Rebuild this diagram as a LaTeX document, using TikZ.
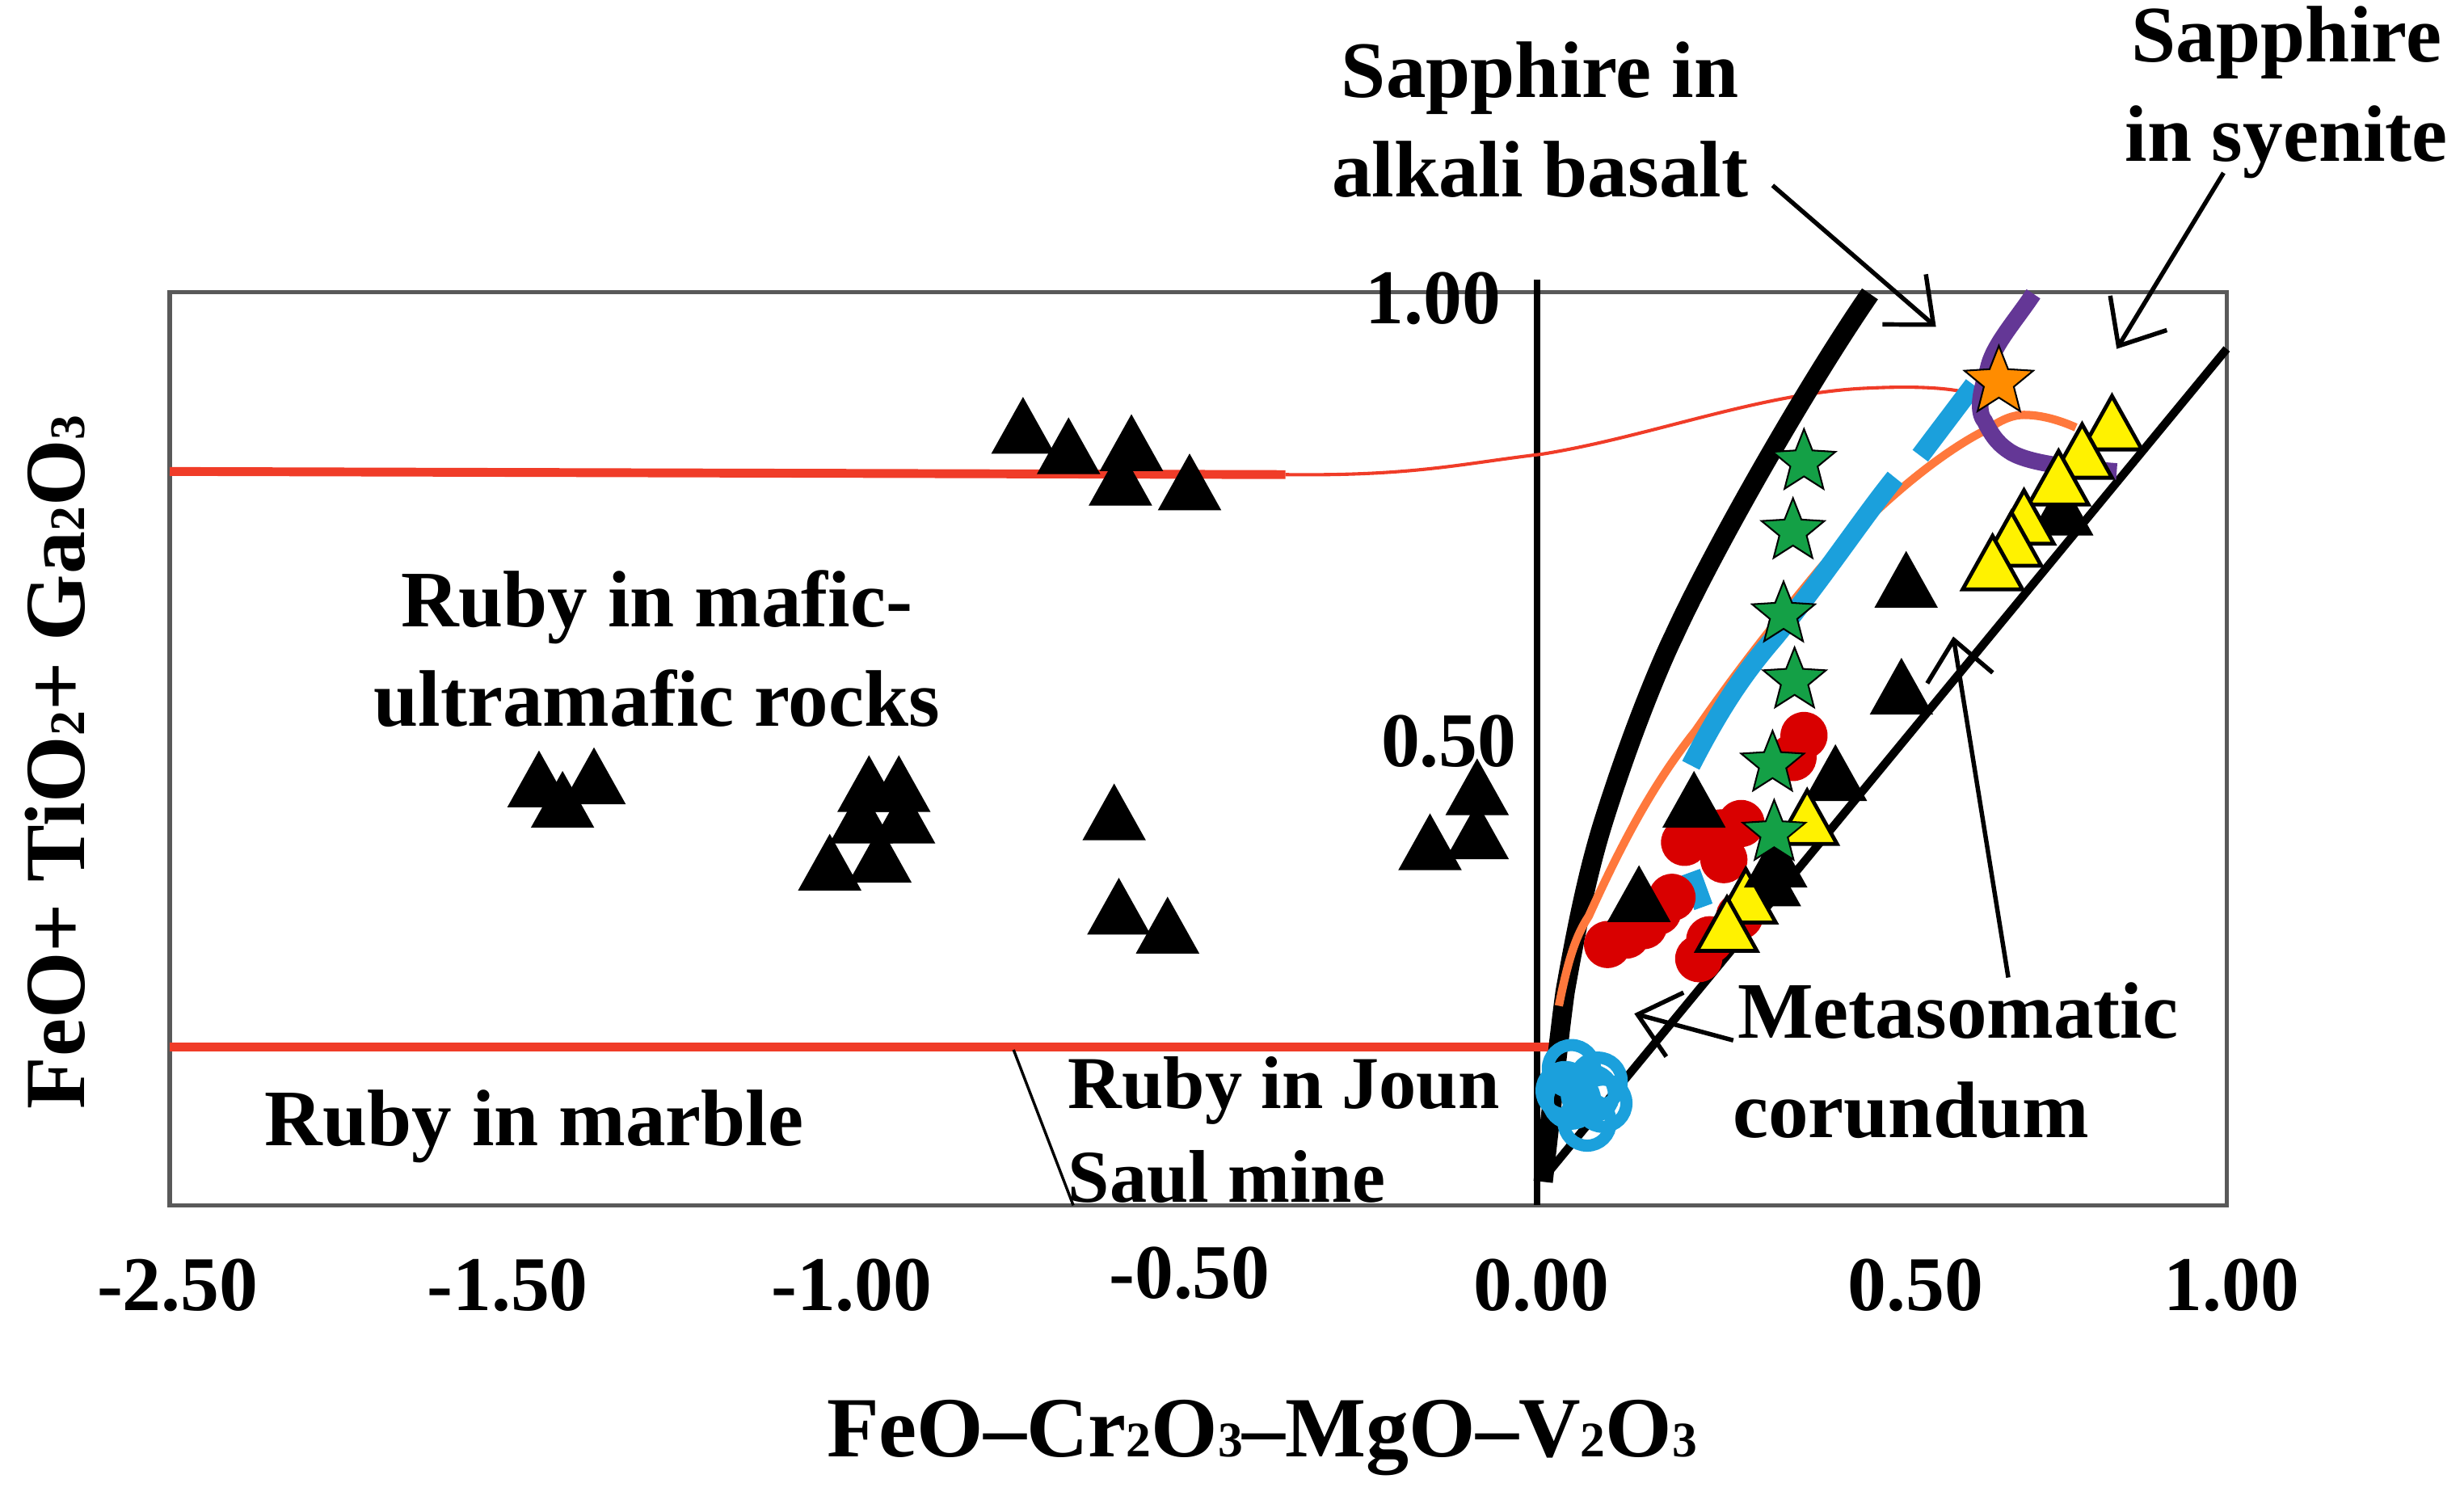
\documentclass[tikz,border=0pt]{standalone}
\usepackage{fontspec}
\setmainfont{Liberation Serif}
\usetikzlibrary{shapes.geometric,arrows.meta}
\definecolor{rred}{RGB}{240,60,40}
\definecolor{cyanb}{RGB}{27,160,220}
\definecolor{purp}{RGB}{100,55,150}
\definecolor{oran}{RGB}{255,120,60}
\definecolor{gstar}{RGB}{20,160,70}
\tikzset{
 lbl/.style={font=\bfseries\fontsize{14.5}{16}\selectfont,align=center,inner sep=0pt},
 tick/.style={font=\bfseries\fontsize{14}{15}\selectfont,inner sep=0pt},
 btri/.style={fill=black,draw=black},
 ytri/.style={fill=yellow,draw=black,line width=0.7pt},
 gst/.style={star,star points=5,star point ratio=2.3,fill=gstar,draw=black,line width=0.3pt,minimum size=0.42cm,inner sep=0pt},
 rdot/.style={circle,fill=red!85!black,minimum size=0.3cm,inner sep=0pt},
 cring/.style={circle,draw=cyanb,line width=2.2pt,minimum size=0.3cm,inner sep=0pt},
 ann/.style={line width=0.8pt,-{Straight Barb[length=7pt,width=12pt]}}
}
\newcommand{\tri}[3]{\path[#3] (#1-19,#2+16)--(#1,#2-18)--(#1+19,#2+16)--cycle;}
\begin{document}
\begin{tikzpicture}[x=0.01cm,y=-0.01cm]
\useasboundingbox (0,0) rectangle (1568,954);
% frame
\draw[gray!70!black,line width=0.8pt] (108,186) rectangle (1417,767);
\draw[line width=1.1pt] (978,178) -- (978,767);
% red lines
\draw[rred,line width=1.6pt] (108,300) -- (818,302);
\draw[rred,line width=0.6pt] (818,302) .. controls (900,303) and (930,295) .. (981,289) .. controls (1050,278) and (1120,250) .. (1188,247) .. controls (1230,245) and (1250,248) .. (1262,253);
\draw[rred,line width=1.6pt] (108,666) -- (990,666);
\draw[line width=0.5pt] (645,668) -- (683,767);
% black line boundaries
\draw[line width=1.5pt] (982,750) -- (1417,222);
\draw[line width=3.5pt] (982,752) .. controls (988,700) and (992,660) .. (996,631) .. controls (1005,580) and (1012,550) .. (1020,524) .. controls (1040,460) and (1060,415) .. (1065,405) .. controls (1090,350) and (1150,245) .. (1190,187);
% orange curve
\draw[oran,line width=1.5pt] (992,640) .. controls (998,610) and (1003,595) .. (1011,583) .. controls (1035,530) and (1055,495) .. (1079,465) .. controls (1110,420) and (1135,390) .. (1158,362) .. controls (1200,315) and (1240,285) .. (1265,273) .. controls (1275,266) and (1282,264) .. (1288,264) .. controls (1300,264) and (1312,268) .. (1321,272);
% cyan dashed
\draw[cyanb,line width=3.5pt] (1084,577) -- (1076,555);
\draw[cyanb,line width=3.5pt] (1076,487) .. controls (1095,450) and (1110,428) .. (1129,406) .. controls (1160,368) and (1185,330) .. (1206,304);
\draw[cyanb,line width=3.5pt] (1222,290) -- (1256,245);
% purple
\draw[purp,line width=3pt] (1294,187) .. controls (1282,205) and (1268,220) .. (1265,235) .. controls (1260,250) and (1258,262) .. (1263,268) .. controls (1268,278) and (1272,283) .. (1280,288) .. controls (1292,295) and (1320,298) .. (1347,300);
% cyan rings
\foreach \p in {(1000,680),(1017,688),(1000,700),(1020,702),(1010,714),(996,694),(1012,696)} \node[cring] at \p {};
% red dots
\foreach \p in {(1148,468),(1141,482),(1108,524),(1095,530),(1072,536),(1097,547),(1064,571),(1055,580),(1046,589),(1023,601),(1081,610),(1107,583),(1035,595),(1088,598)} \node[rdot] at \p {};
% black triangles
\foreach \x/\y in {651/272,680/285,720/283,713/305,757/308,343/497,378/495,358/510,553/500,572/500,548/520,575/520,528/550,560/545,709/518,712/578,743/590,940/502,910/537,940/530,1043/570,1078/510,1168/493,1213/370,1210/438,1312/324}
  {\tri{\x}{\y}{btri}}
% yellow triangles
\foreach \x/\y in {1344/270,1325/288,1310/305,1288/330,1280/344,1268/359}
  {\tri{\x}{\y}{ytri}}
\tri{1126}{560}{btri}
\foreach \x/\y in {1150/521,1111/571,1099/589}
  {\tri{\x}{\y}{ytri}}
\tri{1130}{548}{btri}
% stars
\foreach \p in {(1148,294),(1141,338),(1135,391),(1142,433),(1128,486),(1129,530)} \node[gst] at \p {};
\node[gst,fill=orange!90!yellow,minimum size=0.46cm] at (1272,243) {};
% tick labels
\node[tick] (t1) at (912,190) {1.00};
\node[tick] (t2) at (922,472) {0.50};
\foreach \x/\l/\yy in {113/-2.50/818,323/-1.50/818,542/-1.00/818,757/-0.50/810,981/0.00/818,1219/0.50/818,1420/1.00/818}
  \node[tick] at (\x,\yy) {\l};
% axis titles
\node[lbl,font=\bfseries\fontsize{15.5}{17}\selectfont] (xt) at (803,915) {FeO–Cr{\small 2}O{\small 3}–MgO–V{\small 2}O{\small 3}};
\node[lbl,font=\bfseries\fontsize{15.5}{17}\selectfont,rotate=90] (yt) at (35,485) {FeO+ TiO{\small 2}+ Ga{\small 2}O{\small 3}};
% labels
\node[lbl] (sab) at (980,76) {Sapphire in\\[2pt]alkali basalt};
\node[lbl] (ssy) at (1455,59) {Sapphire\\[2pt]in syenite};
\node[lbl] (met) at (1216,675) {\hspace*{0.6cm}Metasomatic\\[2pt]corundum};
\node[lbl] (maf) at (418,413) {Ruby in mafic-\\[2pt]ultramafic rocks};
\node[lbl] (mar) at (340,717) {Ruby in marble};
\node[lbl,align=left,font=\bfseries\fontsize{13.5}{15}\selectfont] (jou) at (817,719) {Ruby in Joun\\[2pt]Saul mine};
% annotation arrows
\coordinate (a1) at (1232,208);
\coordinate (a2) at (1347,222);
\coordinate (a3) at (1243,405);
\coordinate (a4) at (1040,645);
\draw[ann] (1128,118) -- (a1);
\draw[ann] (1415,110) -- (a2);
\draw[ann] (1278,622) -- (a3);
\draw[ann] (1103,662) -- (a4);
\end{tikzpicture}
\end{document}
